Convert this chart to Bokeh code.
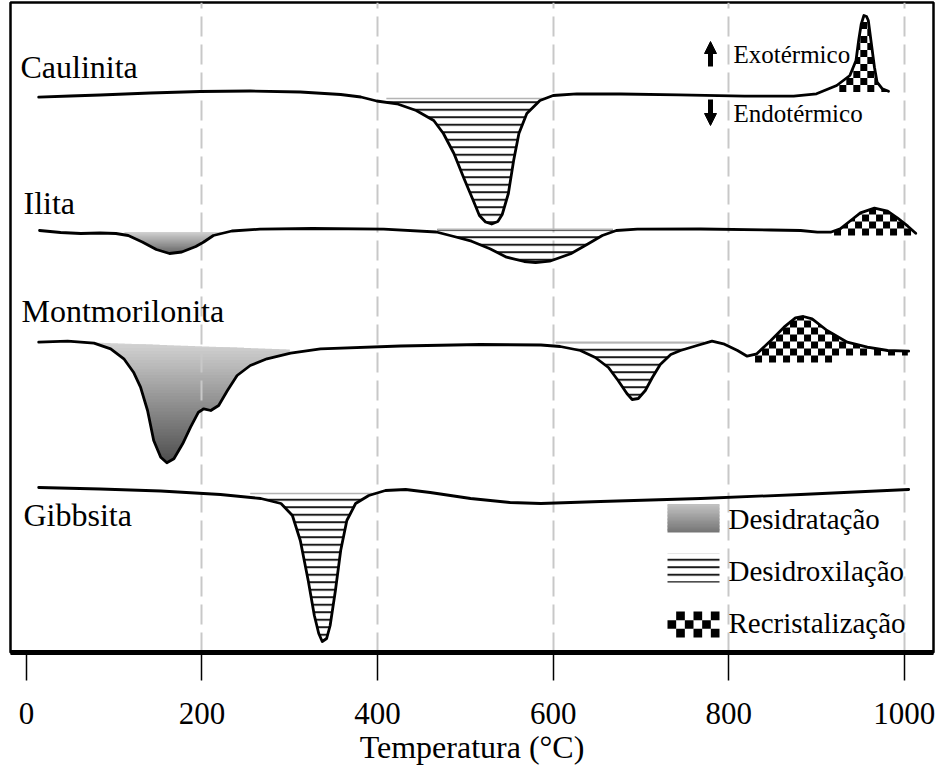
import numpy as np
from bokeh.plotting import figure
from bokeh.models import Range1d, FixedTicker, Label, Arrow, NormalHead
from bokeh.embed import file_html
from bokeh.resources import INLINE

# ---------------- data (temperature in °C, DTA signal in arbitrary units) ----------------
ticks = [0, 200, 400, 600, 800, 1000]
grid_ticks = [200, 400, 600, 800, 1000]

caul_T = [14, 50, 84, 141, 198, 255, 312, 358, 381, 399, 422, 444, 464, 475, 487, 498, 509, 516,
          523, 530, 537, 542, 549, 555, 561, 570, 585, 600, 627, 677, 743, 818, 874, 900, 923, 938,
          945, 948, 951, 954, 957, 959, 962, 966, 969, 975, 982]
caul_y = [555.3, 556.5, 557.5, 559.5, 561, 561.5, 560.5, 558, 555.5, 551.5, 548.7, 542, 532, 519,
          499, 475, 452, 437, 430.5, 428.5, 431, 438, 459, 492, 519, 539, 552, 557, 558.7, 558.5,
          557.7, 556.3, 556.3, 558.7, 567, 577, 592, 612, 628.7, 637, 636, 632, 612, 585.3, 570.3,
          563.7, 561.3]

ilita_T = [15, 39, 62, 84, 102, 116, 132, 148, 163, 177, 193, 202, 213, 234, 266, 326, 407, 467,
           487, 507, 528, 547, 567, 580, 596, 620, 640, 656, 672, 696, 768, 848, 882, 901, 916,
           927, 939, 950, 966, 981, 992, 1004, 1013]
ilita_y = [422, 420, 419, 419.5, 419, 417, 410.5, 403, 399, 400.5, 406, 410.5, 417, 421.5, 423.3,
           424, 423.3, 420.5, 416, 411.3, 403.7, 395.3, 391, 390, 391.3, 398.7, 408.7, 417, 422,
           423.3, 423.5, 422.5, 422, 420.3, 420.3, 423.7, 432, 439.7, 444.3, 441.3, 434.7, 426.3,
           419.3]

mont_T = [14, 47, 77, 96, 111, 122, 130, 138, 145, 153, 160, 168, 178, 187, 196, 202, 210, 219,
          229, 240, 255, 274, 301, 335, 426, 517, 586, 608, 631, 648, 663, 674, 684, 690, 697, 705,
          713, 722, 734, 745, 764, 781, 794, 810, 821, 832, 848, 863, 876, 885, 895, 912, 935, 958,
          981, 1005]
mont_y = [310.3, 311.3, 309.3, 303.7, 293.7, 280.3, 265.3, 242, 212, 195.3, 189.7, 193.7, 208.7,
          225.3, 240.3, 243.7, 242, 247, 262, 277, 287, 293.7, 299.3, 303.7, 306.5, 308, 307.5, 306,
          302, 295, 285, 272, 259, 253, 254, 262, 275, 288, 298, 302, 307, 311.3, 308.7, 302, 296.3,
          298.7, 312, 325.3, 334.7, 336, 333.7, 322, 310.3, 305.3, 302, 301.3]

gibb_T = [14, 84, 153, 221, 267, 290, 303, 312, 321, 328, 333, 337, 342, 346, 352, 358, 365, 375,
          390, 409, 432, 460, 506, 551, 586, 654, 768, 882, 1005]
gibb_y = [165, 163.5, 161.5, 158, 154, 149, 137, 112, 72, 37, 19, 11, 14, 27, 62, 102, 132, 149,
          157, 162, 163, 160, 154, 150, 149, 151, 154, 158, 163]

# process regions: [T start, T end, edge at start, edge at end]
desidratacao = {"ilita": [112, 222, 420.5, 420.5], "mont": [60, 300, 310.5, 303]}
desidroxilacao = {"caul": [410, 590, 554, 554], "ilita": [468, 668, 423.3, 423.3],
                  "mont": [603, 772, 310.3, 310.3], "gibb": [255, 398, 159, 159]}
recristalizacao = {"caul": [918, 982, 560.5, 560.5], "ilita": [912, 1010, 417, 417],
                   "mont": [822, 1004, 290, 297]}

curves = {"caul": (caul_T, caul_y), "ilita": (ilita_T, ilita_y),
          "mont": (mont_T, mont_y), "gibb": (gibb_T, gibb_y)}

# ---------------- layout helpers (reference pixel -> data) ----------------
PXX = 0.8779


def px2x(px):
    return (px - 25.9) / PXX


def py2y(py):
    return 652.0 - py


SERIF = "Liberation Serif"

p = figure(width=941, height=771, output_backend="svg", toolbar_location=None,
           x_range=Range1d(px2x(10), px2x(933)), y_range=Range1d(0, 650),
           y_axis_location=None, min_border_left=10, min_border_right=8,
           min_border_top=2, min_border_bottom=119,
           background_fill_color="white", border_fill_color="white")
p.outline_line_color = "black"
p.outline_line_width = 2.5
p.outline_line_alpha = 1

ax = p.xaxis[0]
ax.ticker = FixedTicker(ticks=ticks)
ax.axis_line_width = 5
ax.axis_line_color = "black"
ax.major_tick_out = 28
ax.major_tick_in = 0
ax.major_tick_line_width = 1.5
ax.major_tick_line_color = "black"
ax.minor_tick_line_color = None
ax.major_label_text_font = SERIF
ax.major_label_text_font_size = "31px"
ax.major_label_text_color = "black"
ax.major_label_standoff = 22
ax.axis_label = "Temperatura (°C)"
ax.axis_label_text_font = SERIF
ax.axis_label_text_font_size = "32px"
ax.axis_label_text_font_style = "normal"
ax.axis_label_text_color = "black"
ax.axis_label_standoff = 2

p.xgrid.ticker = FixedTicker(ticks=grid_ticks)
p.xgrid.grid_line_color = "#c8c8c8"
p.xgrid.grid_line_width = 2
p.xgrid.grid_line_dash = "20 8"
p.ygrid.visible = False


def region(key, spec, n=400):
    xc, yc = curves[key]
    x0, x1, e0, e1 = spec
    xx = np.linspace(x0, x1, n)
    cur = np.interp(xx, xc, yc)
    edge = np.interp(xx, [x0, x1], [e0, e1])
    return xx, cur, edge


def lerp_color(c_top, c_bot, t):
    r = [int(round(b + (a - b) * t)) for a, b in zip(c_top, c_bot)]
    return "#%02x%02x%02x" % tuple(r)


def checker_squares(x0, x1, edge_fn, top_fn, s_px, phase=0):
    """Black squares of a checkerboard lying between edge_fn (below) and top_fn (above)."""
    sx = s_px / PXX
    sy = s_px
    xs_all, ys_all = [], []
    e_min = min(edge_fn(x0), edge_fn(x1))
    g0 = e_min - sy
    ncol = int(np.ceil((x1 - x0) / sx))
    for i in range(ncol):
        xl = x0 + i * sx
        xr = min(xl + sx, x1)
        xm = 0.5 * (xl + xr)
        ec = edge_fn(xm)
        xt = np.linspace(xl, xr, 7)
        ct = top_fn(xt)
        cmax = float(np.max(ct))
        k = 0
        while True:
            yb = g0 + k * sy
            yt = yb + sy
            if yb >= cmax:
                break
            if (yb + yt) / 2 >= ec - 0.5 and (i + k + phase) % 2 == 0:
                tops = np.clip(ct, yb, yt)
                if np.max(tops) > yb + 0.2:
                    xs_all.append([xl, xr] + list(xt[::-1]))
                    ys_all.append([yb, yb] + list(tops[::-1]))
            k += 1
    return xs_all, ys_all


# gradient fills (Desidratação)
grad_cols = {"ilita": ((210, 210, 210), (100, 100, 100)), "mont": ((212, 212, 212), (78, 78, 78))}
for key, spec in desidratacao.items():
    xx, cur, edge = region(key, spec)
    bot = np.minimum(cur, edge)
    lo, hi = bot.min(), edge.max()
    nb = 40
    edges = np.linspace(lo, hi, nb + 1)
    ctop, cbot = grad_cols[key]
    for k in range(nb):
        a, b = edges[k], edges[k + 1] + 0.8
        y1 = np.maximum(bot, a)
        y2 = np.maximum(np.minimum(edge, b), y1)
        t = (0.5 * (edges[k] + edges[k + 1]) - lo) / (hi - lo)
        p.varea(x=xx, y1=y1, y2=y2, fill_color=lerp_color(ctop, cbot, t), level="underlay")

# horizontal line hatch (Desidroxilação)
for key, spec in desidroxilacao.items():
    xx, cur, edge = region(key, spec)
    p.varea(x=xx, y1=np.minimum(cur, edge), y2=edge, fill_color=None, fill_alpha=0,
            hatch_pattern="horizontal_line", hatch_scale=7.5, hatch_weight=2,
            hatch_color="#1a1a1a")
    p.line(xx, edge, line_color="#b4b4b4", line_width=1.5)

# checkerboard (Recristalização)
for key, spec in recristalizacao.items():
    xc, yc = curves[key]
    x0, x1, e0, e1 = spec
    edge_fn = (lambda a, b, c, d: (lambda x: np.interp(x, [a, b], [c, d])))(x0, x1, e0, e1)
    top_fn = (lambda X, Y: (lambda x: np.interp(x, X, Y)))(xc, yc)
    xs, ys = checker_squares(x0, x1, edge_fn, top_fn, 7.0)
    p.patches(xs, ys, fill_color="black", line_color=None)

# curves
for key, (xc, yc) in curves.items():
    p.line(xc, yc, line_color="black", line_width=2.8, line_join="round", line_cap="round")

# ---------------- legend ----------------
lx0, lx1 = px2x(667), px2x(719)
nb = 20
gy = np.linspace(py2y(532), py2y(504), nb + 1)
for k in range(nb):
    t = k / (nb - 1)
    p.quad(left=lx0, right=lx1, bottom=gy[k], top=gy[k + 1] + 0.6,
           fill_color=lerp_color((192, 192, 192), (118, 118, 118), t), line_color=None)
p.quad(left=lx0, right=lx1, bottom=py2y(582), top=py2y(553), fill_color=None, fill_alpha=0,
       line_color=None, hatch_pattern="horizontal_line", hatch_scale=7.5, hatch_weight=2,
       hatch_color="#1a1a1a")
lb, lt = py2y(637), py2y(611)
xs, ys = checker_squares(lx0, lx1 + 0.01, lambda x: np.full_like(np.asarray(x, float), lb) if np.ndim(x) else lb,
                         lambda x: np.full_like(np.asarray(x, float), lt), 52 / 6)
p.patches(xs, [[v + (lb - (min(min(r) for r in ys))) for v in r] for r in ys],
          fill_color="black", line_color=None)

texts = [
    ("Caulinita", 20, 66, "32px"),
    ("Ilita", 23, 202, "32px"),
    ("Montmorilonita", 21, 310, "32px"),
    ("Gibbsita", 23, 514, "32px"),
    ("Exotérmico", 733, 54, "25px"),
    ("Endotérmico", 733, 113, "25px"),
    ("Desidratação", 728, 518, "29px"),
    ("Desidroxilação", 728, 570, "29px"),
    ("Recristalização", 728, 622, "29px"),
]
for txt, x, y, fs in texts:
    p.add_layout(Label(x=px2x(x), y=py2y(y), text=txt, text_font=SERIF, text_font_size=fs,
                       text_color="black", text_baseline="alphabetic", text_align="left"))

ax_x = px2x(710)
p.add_layout(Arrow(end=NormalHead(size=12, fill_color="black", line_color="black", line_width=1),
                   x_start=ax_x, y_start=py2y(66), x_end=ax_x, y_end=py2y(41),
                   line_width=5, line_color="black"))
p.add_layout(Arrow(end=NormalHead(size=12, fill_color="black", line_color="black", line_width=1),
                   x_start=ax_x, y_start=py2y(99), x_end=ax_x, y_end=py2y(125),
                   line_width=5, line_color="black"))

open("out.html", "w").write(file_html(p, INLINE))
